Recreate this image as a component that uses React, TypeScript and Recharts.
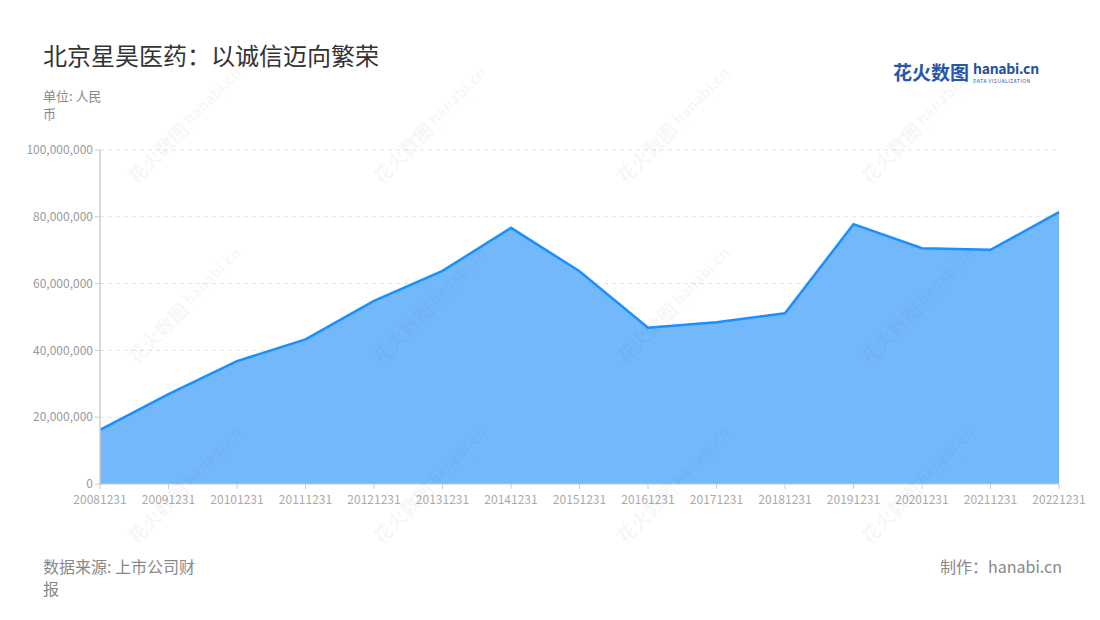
import React from 'react';
import { AreaChart, Area, XAxis, YAxis, CartesianGrid } from 'recharts';

const years = [
  '20081231', '20091231', '20101231', '20111231', '20121231', '20131231', '20141231', '20151231',
  '20161231', '20171231', '20181231', '20191231', '20201231', '20211231', '20221231',
];
const revenue = [
  16200000, 26900000, 36800000, 43300000, 54800000, 63800000, 76700000, 63700000,
  46800000, 48400000, 51100000, 77800000, 70600000, 70100000, 81400000,
];
const yTicks = [0, 20000000, 40000000, 60000000, 80000000, 100000000];

const data = years.map((y, i) => ({ date: y, value: revenue[i] }));

const font = '"Noto Sans CJK SC", "Noto Sans", sans-serif';

const wmCols = [183, 428, 672, 916];
const wmRows = [130, 310, 490];

function Watermarks() {
  const marks: React.ReactNode[] = [];
  wmRows.forEach((cy, r) =>
    wmCols.forEach((cx, c) => {
      marks.push(
        <g key={`${r}-${c}`} transform={`translate(${cx},${cy}) rotate(-45)`} fill="rgba(0,0,0,0.05)">
          <text x={-72} y={6} fontSize={19} fontWeight={700} fontFamily={font}>花火数图</text>
          <text x={8} y={2} fontSize={15} fontWeight={700} fontFamily={font}>hanabi.cn</text>
          <text x={9} y={10} fontSize={5} fontFamily={font}>DATA VISUALIZATION</text>
        </g>
      );
    })
  );
  return (
    <svg width={1100} height={620} style={{ position: 'absolute', left: 0, top: 0, pointerEvents: 'none' }}>
      {marks}
    </svg>
  );
}

export default function App() {
  return (
    <div style={{ position: 'absolute', left: 0, top: 0, width: 1100, height: 620, background: '#fff', fontFamily: font }}>
      <div style={{ position: 'absolute', left: 43, top: 37, fontSize: 24, color: '#333' }}>
        北京星昊医药：以诚信迈向繁荣
      </div>
      <div style={{ position: 'absolute', left: 43, top: 87, width: 70, fontSize: 13, lineHeight: '18px', color: '#888' }}>
        单位: 人民币
      </div>
      <div style={{ position: 'absolute', left: 893, top: 58, display: 'flex', alignItems: 'flex-start' }}>
        <span style={{ fontSize: 19, fontWeight: 700, color: '#2856a8', lineHeight: '28px' }}>花火数图</span>
        <div style={{ marginLeft: 4, display: 'flex', flexDirection: 'column' }}>
          <span style={{ fontSize: 14, fontWeight: 700, color: '#2a4f9c', lineHeight: '20px', letterSpacing: -0.3 }}>hanabi.cn</span>
          <span style={{ fontSize: 5, color: '#2a4f9c', lineHeight: '6px', letterSpacing: 0.5 }}>DATA VISUALIZATION</span>
        </div>
      </div>
      <div style={{ position: 'absolute', left: 0, top: 0 }}>
        <AreaChart width={1100} height={620} data={data} margin={{ top: 150, right: 41, bottom: 106, left: 0 }}>
          <CartesianGrid vertical={false} stroke="#e3e3e3" strokeDasharray="4 4" />
          <XAxis
            dataKey="date"
            interval={0}
            height={30}
            tick={{ fontSize: 12, fill: '#aaa', fontFamily: font, dy: 4 }}
            tickLine={{ stroke: '#ccc' }}
            axisLine={{ stroke: '#ccc' }}
            tickSize={5}
          />
          <YAxis
            width={100}
            domain={[0, 100000000]}
            ticks={yTicks}
            interval={0}
            tickFormatter={(v: number) => v.toLocaleString('en-US')}
            tick={{ fontSize: 12, fill: '#999', fontFamily: font }}
            tickLine={{ stroke: '#ccc' }}
            axisLine={{ stroke: '#ccc', strokeWidth: 1.5 }}
            tickSize={5}
          />
          <Area
            type="linear"
            dataKey="value"
            stroke="#1890ff"
            strokeWidth={2.5}
            fill="#74b8fc"
            fillOpacity={1}
            isAnimationActive={false}
            dot={false}
            activeDot={false}
          />
        </AreaChart>
      </div>
      <Watermarks />
      <div style={{ position: 'absolute', left: 43, top: 555, width: 158, fontSize: 16, lineHeight: '22px', color: '#888' }}>
        数据来源: 上市公司财报
      </div>
      <div style={{ position: 'absolute', right: 38, top: 555, fontSize: 16, lineHeight: '22px', color: '#888' }}>
        制作：hanabi.cn
      </div>
    </div>
  );
}
